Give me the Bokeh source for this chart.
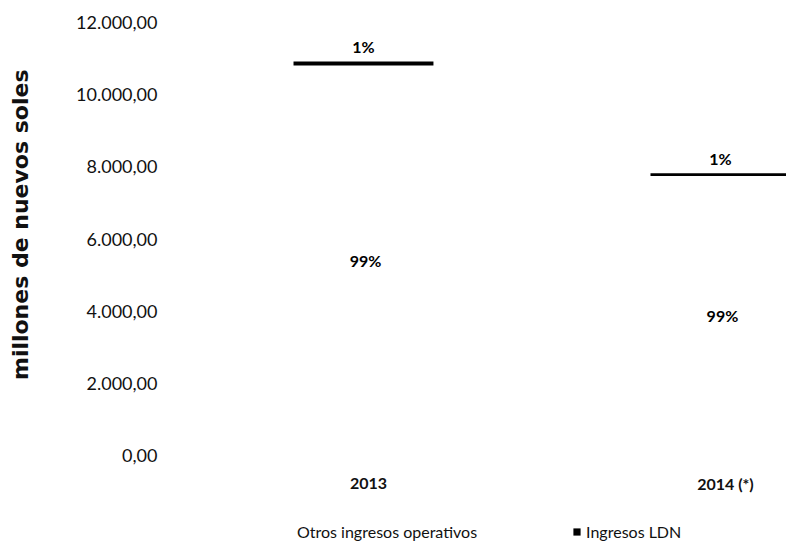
import math
from bokeh.plotting import figure
from bokeh.models import Range1d, ColumnDataSource, LabelSet, Legend, LegendItem, FixedTicker, Title
from bokeh.embed import file_html
from bokeh.resources import INLINE
from bokeh.core.properties import value

# ---- data ----
years = ["2013", "2014 (*)"]
otros = [10811, 7747]          # Otros ingresos operativos (99%)
ldn = [109, 78]                # Ingresos LDN (1%)
pct_otros = ["99%", "99%"]
pct_ldn = ["1%", "1%"]
y_ticks = [0, 2000, 4000, 6000, 8000, 10000, 12000]
y_tick_labels = ["0,00", "2.000,00", "4.000,00", "6.000,00", "8.000,00", "10.000,00", "12.000,00"]

xpos = list(range(len(years)))
totals = [a + b for a, b in zip(otros, ldn)]

src = ColumnDataSource(dict(
    x=xpos, otros=otros, ldn=ldn,
    mid=[o / 2 for o in otros], top=totals,
    p_otros=pct_otros, p_ldn=pct_ldn,
    year=years, base=[0] * len(years),
))

FONT = "Lato"

p = figure(frame_width=614, frame_height=523, output_backend="svg", toolbar_location=None,
           x_range=Range1d(-0.535, 1.185), y_range=Range1d(-2494, 12000),
           min_border_top=22, min_border_left=172, min_border_right=0,
           min_border_bottom=0)
p.outline_line_color = None
p.xgrid.visible = False
p.ygrid.visible = False
p.xaxis.visible = False
p.background_fill_color = "white"
p.border_fill_color = "white"

r = p.vbar_stack(["otros", "ldn"], x="x", width=0.392, source=src,
                 color=["white", "black"], line_color=None)

# value labels
p.add_layout(LabelSet(x="x", y="mid", text="p_otros", source=src,
                      text_align="center", text_baseline="middle", x_offset=2,
                      text_font=value(FONT), text_font_style="bold",
                      text_font_size="16px", text_color="black"))
p.add_layout(LabelSet(x="x", y="top", text="p_ldn", source=src,
                      text_align="center", text_baseline="bottom", y_offset=5,
                      text_font=value(FONT), text_font_style="bold",
                      text_font_size="16px", text_color="black"))
# category labels (below the zero line)
p.add_layout(LabelSet(x="x", y="base", text="year", source=src,
                      text_align="center", text_baseline="middle", y_offset=-28, x_offset=5,
                      text_font=value(FONT), text_font_style="bold",
                      text_font_size="16px", text_color="#111111"))

# y axis
p.yaxis.ticker = FixedTicker(ticks=y_ticks)
p.yaxis.major_label_overrides = {t: l for t, l in zip(y_ticks, y_tick_labels)}
p.yaxis.axis_line_color = None
p.yaxis.major_tick_line_color = None
p.yaxis.minor_tick_line_color = None
p.yaxis.major_label_text_font = FONT
p.yaxis.major_label_text_font_size = "18px"
p.yaxis.major_label_text_color = "#111111"
p.yaxis.major_label_standoff = 9
# blank axis label used only as a spacer, pushing the title further left
p.yaxis.axis_label = " "
p.yaxis.axis_label_text_font_size = "12px"
p.yaxis.axis_label_standoff = 22

ytitle = Title(text="millones de nuevos soles", align="right", offset=47,
               text_font="DejaVu Sans", text_font_size="22px", text_font_style="bold",
               text_color="#111111", standoff=4)
p.add_layout(ytitle, "left")

legend = Legend(items=[LegendItem(label="Otros ingresos operativos", renderers=[r[0]]),
                       LegendItem(label="Ingresos LDN", renderers=[r[1]])],
                orientation="horizontal", location=(111, 4),
                label_text_font=FONT, label_text_font_size="16px",
                label_text_color="#111111", glyph_width=9, glyph_height=9,
                label_standoff=5, spacing=95, border_line_color=None, padding=0, margin=0,
                background_fill_alpha=0)
p.add_layout(legend)

open("out.html", "w").write(file_html(p, INLINE))
